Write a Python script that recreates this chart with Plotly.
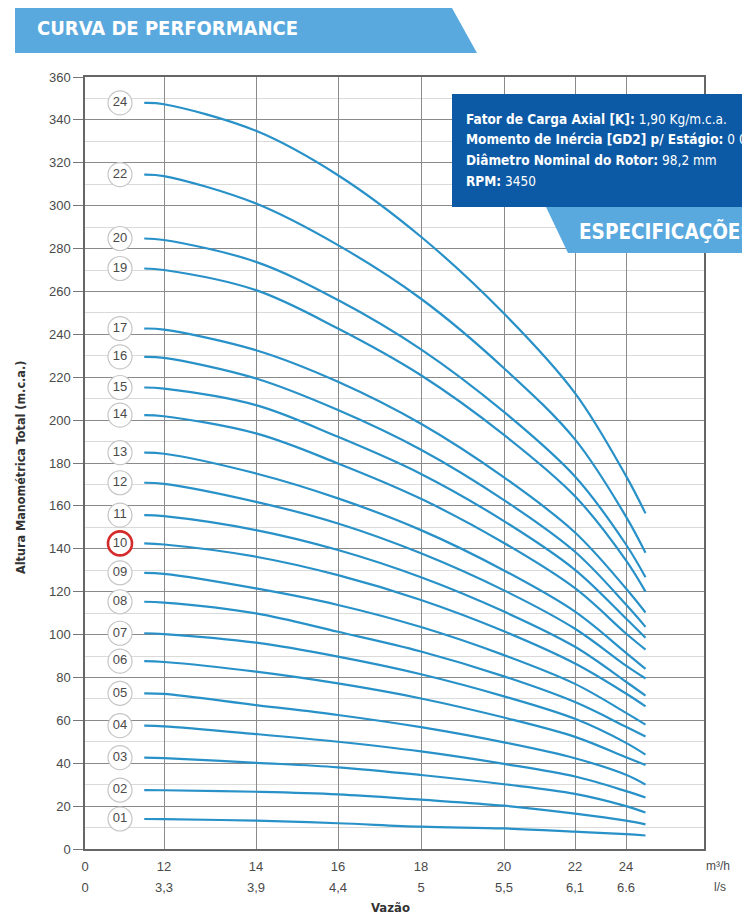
import numpy as np
import plotly.graph_objects as go

# ---------------- data ----------------
FLOW = [9, 12, 14, 16, 18, 20, 22, 24, 24.5]          # m³/h sample points
STAGES = ["24", "22", "20", "19", "17", "16", "15", "14", "13", "12", "11",
          "10", "09", "08", "07", "06", "05", "04", "03", "02", "01"]

H_24 = [347.9, 347.3, 334.9, 314.2, 285.5, 249.7, 212.6, 174.0, 156.5]
H_22 = [314.5, 313.8, 301.0, 281.6, 256.6, 224.2, 191.0, 155.0, 138.1]
H_20 = [284.7, 284.0, 273.8, 256.0, 233.0, 203.8, 173.7, 142.0, 126.7]
H_19 = [270.7, 270.0, 260.6, 242.7, 220.9, 193.1, 164.5, 134.6, 120.0]
H_17 = [242.7, 242.2, 232.6, 217.9, 198.3, 173.3, 147.6, 121.5, 110.3]
H_16 = [229.5, 229.0, 219.4, 204.7, 186.2, 162.7, 138.6, 114.0, 103.6]
H_15 = [215.2, 214.7, 207.0, 192.2, 174.9, 152.9, 130.2, 107.5, 98.5]
H_14 = [202.3, 201.8, 193.8, 179.8, 163.3, 142.7, 121.6, 100.5, 93.0]
H_13 = [184.8, 184.3, 175.1, 163.5, 148.7, 129.9, 110.7, 91.5, 84.0]
H_12 = [170.8, 170.3, 161.9, 151.8, 137.9, 120.6, 102.7, 85.5, 79.5]
H_11 = [155.7, 155.2, 148.7, 139.4, 126.7, 110.7, 94.3, 78.0, 71.5]
H_10 = [142.5, 142.0, 136.3, 127.7, 116.1, 101.5, 86.5, 72.5, 66.5]
H_09 = [128.8, 128.3, 121.5, 113.8, 103.5, 90.4, 77.0, 63.5, 58.0]
H_08 = [115.3, 114.9, 109.9, 101.3, 92.1, 80.5, 68.5, 57.0, 52.5]
H_07 = [100.6, 100.2, 96.2, 89.7, 81.5, 71.2, 60.7, 49.5, 44.0]
H_06 = [87.6, 87.2, 82.7, 77.2, 70.2, 61.3, 52.3, 42.8, 39.2]
H_05 = [72.6, 72.3, 67.1, 62.5, 56.8, 49.7, 42.3, 34.6, 30.0]
H_04 = [57.5, 57.2, 53.6, 50.0, 45.5, 39.7, 33.8, 27.0, 24.0]
H_03 = [42.6, 42.4, 40.2, 38.1, 34.5, 30.2, 25.7, 20.0, 17.0]
H_02 = [27.5, 27.4, 26.7, 25.5, 23.0, 20.2, 16.5, 13.2, 11.5]
H_01 = [14.0, 13.9, 13.2, 12.0, 10.4, 9.6, 8.1, 6.9, 6.3]

HEADS = [H_24, H_22, H_20, H_19, H_17, H_16, H_15, H_14, H_13, H_12, H_11,
         H_10, H_09, H_08, H_07, H_06, H_05, H_04, H_03, H_02, H_01]
HIGHLIGHT = "10"

X_TICKS_M3H = [0, 12, 14, 16, 18, 20, 22, 24]
X_TICKS_LS = ["0", "3,3", "3,9", "4,4", "5", "5,5", "6,1", "6.6"]
Y_TICKS = list(range(0, 361, 20))

# ---------------- layout helpers ----------------
W, H = 742, 918
PL, PR, PT, PB = 85, 704, 77, 849            # plot area in pixels
# the printed flow scale is not uniform: anchor flows to axis positions
AXIS_FLOW = [0, 12, 14, 16, 18, 20, 22, 24, 26]
AXIS_POS = [0, 79, 171, 253, 336, 419, 490, 541, 619]
LABEL_POS = 35


def xpos(q):
    return list(np.interp(q, AXIS_FLOW, AXIS_POS))


def px(x):
    return (x - PL) / (PR - PL)


def py(y):
    return (PB - y) / (PB - PT)


NARROW = "Liberation Sans Narrow, DejaVu Sans Condensed, Arial Narrow, sans-serif"
SANS = "Liberation Sans, Arial, sans-serif"
CURVE = "#2891c8"
LIGHT_BLUE = "#5aa9de"
DARK_BLUE = "#0c5aa6"

fig = go.Figure()

for name, h in zip(STAGES, HEADS):
    fig.add_trace(go.Scatter(
        x=xpos(FLOW), y=h, mode="lines", name=name,
        line=dict(color=CURVE, width=2.2, shape="spline", smoothing=1.0),
        showlegend=False, hoverinfo="skip"))

starts = [h[0] for h in HEADS]
fig.add_trace(go.Scatter(
    x=[LABEL_POS] * len(STAGES), y=starts, mode="markers+text",
    text=STAGES, textposition="middle center",
    textfont=dict(family=SANS, size=13, color="#4a4a4a"),
    marker=dict(size=24, color="white",
                line=dict(color=["#d42a2a" if s == HIGHLIGHT else "#c6c6c6" for s in STAGES],
                          width=[2.6 if s == HIGHLIGHT else 1.2 for s in STAGES])),
    showlegend=False, hoverinfo="skip"))

# dummy trace to carry the second (l/s) x axis
fig.add_trace(go.Scatter(x=[None], y=[None], xaxis="x2", showlegend=False, hoverinfo="skip"))

shapes = [
    dict(type="path", xref="paper", yref="paper", layer="above",
         path=f"M {px(15)},{py(8)} L {px(452)},{py(8)} L {px(477)},{py(53)} L {px(15)},{py(53)} Z",
         fillcolor=LIGHT_BLUE, line=dict(width=0)),
    dict(type="rect", xref="paper", yref="paper", layer="above",
         x0=px(452), x1=px(760), y0=py(207), y1=py(94),
         fillcolor=DARK_BLUE, line=dict(width=0)),
    dict(type="path", xref="paper", yref="paper", layer="above",
         path=f"M {px(546)},{py(207)} L {px(760)},{py(207)} L {px(760)},{py(253)} L {px(568)},{py(253)} Z",
         fillcolor=LIGHT_BLUE, line=dict(width=0)),
]

ann = []
ann.append(dict(xref="paper", yref="paper", x=px(35), y=py(28), xanchor="left", yanchor="middle",
                text="<b>CURVA DE PERFORMANCE</b>", showarrow=False,
                font=dict(family=NARROW, size=20, color="white")))
ann.append(dict(xref="paper", yref="paper", x=px(577), y=py(231), xanchor="left", yanchor="middle",
                text="<b>ESPECIFICAÇÕES</b>", showarrow=False,
                font=dict(family=NARROW, size=20.5, color="white")))
spec_lines = [
    ("Fator de Carga Axial [K]:", " 1,90 Kg/m.c.a.", 119),
    ("Momento de Inércia [GD2] p/ Estágio:", " 0 00", 139),
    ("Diâmetro Nominal do Rotor:", " 98,2 mm", 160),
    ("RPM:", " 3450", 181),
]
for b, v, yy in spec_lines:
    ann.append(dict(xref="paper", yref="paper", x=px(464), y=py(yy), xanchor="left", yanchor="middle",
                    text=f"<b>{b}</b>{v}", showarrow=False, align="left",
                    font=dict(family=NARROW, size=13.5, color="white")))
ann.append(dict(xref="paper", yref="paper", x=px(20), y=py(468), textangle=-90,
                xanchor="center", yanchor="middle", showarrow=False,
                text="<b>Altura Manométrica Total (m.c.a.)</b>",
                font=dict(family=NARROW, size=12.5, color="#333")))
ann.append(dict(xref="paper", yref="paper", x=px(718), y=py(866), xanchor="center", yanchor="middle",
                showarrow=False, text="m³/h", font=dict(family=SANS, size=12, color="#4a4a4a")))
ann.append(dict(xref="paper", yref="paper", x=px(720), y=py(887), xanchor="center", yanchor="middle",
                showarrow=False, text="l/s", font=dict(family=SANS, size=12, color="#4a4a4a")))
ann.append(dict(xref="paper", yref="paper", x=px(390), y=py(907), xanchor="center", yanchor="middle",
                showarrow=False, text="<b>Vazão</b>", font=dict(family=NARROW, size=13, color="#333")))

fig.update_layout(
    width=W, height=H, autosize=False,
    margin=dict(l=PL, r=W - PR, t=PT, b=H - PB, pad=0),
    paper_bgcolor="white", plot_bgcolor="white",
    shapes=shapes, annotations=ann,
    xaxis=dict(range=[0, AXIS_POS[-1]], tickvals=xpos(X_TICKS_M3H),
               ticktext=[str(t) for t in X_TICKS_M3H],
               showgrid=True, gridcolor="#8a8a8a", gridwidth=1, zeroline=False,
               ticks="", showline=True, linecolor="#666", linewidth=1.5, mirror=True,
               ticklabelstandoff=5,
               tickfont=dict(family=SANS, size=13, color="#4a4a4a")),
    xaxis2=dict(range=[0, AXIS_POS[-1]], overlaying="x", anchor="y", side="bottom",
                tickvals=xpos(X_TICKS_M3H), ticktext=X_TICKS_LS,
                showgrid=False, zeroline=False, showline=False, ticks="",
                ticklabelstandoff=29,
                tickfont=dict(family=SANS, size=13, color="#4a4a4a")),
    yaxis=dict(range=[0, 360], tickvals=Y_TICKS, showgrid=True, gridcolor="#8a8a8a", gridwidth=1,
               zeroline=False, ticks="outside", ticklen=10, tickcolor="#777",
               showline=True, linecolor="#666", linewidth=1.5, mirror=True,
               minor=dict(dtick=10, tick0=0, showgrid=True, gridcolor="#dadada", ticks=""),
               tickfont=dict(family=SANS, size=13, color="#4a4a4a")),
)

fig.write_html("out.html", config={"displayModeBar": False},
               post_script="document.body.style.margin='0';")
